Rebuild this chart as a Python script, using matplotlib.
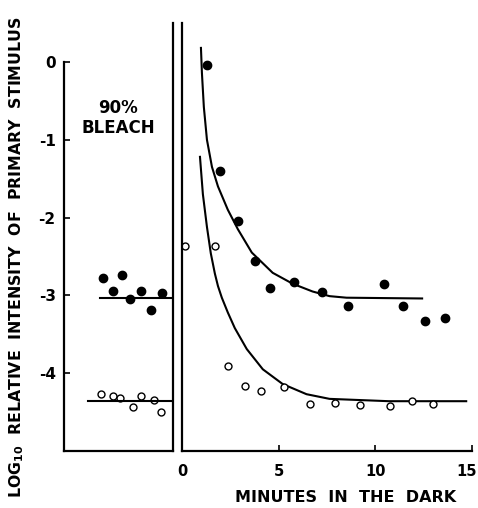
import matplotlib
matplotlib.use("Agg")
import matplotlib.pyplot as plt
import matplotlib.transforms as mtransforms

plt.rcParams['font.family'] = ['DejaVu Sans']
plt.rcParams['axes.unicode_minus'] = False

# --- before the bleach (left panel), x is arbitrary minutes before 0
pre_filled_x = [-3.6, -3.1, -2.6, -2.2, -1.65, -1.13, -0.57]
pre_filled_y = [-2.78, -2.95, -2.74, -3.05, -2.95, -3.19, -2.97]
pre_open_x = [-3.7, -3.1, -2.7, -2.06, -1.65, -0.98, -0.62]
pre_open_y = [-4.27, -4.29, -4.32, -4.44, -4.29, -4.35, -4.50]
pre_filled_level = -3.04
pre_filled_start = -3.76
pre_open_level = -4.36
pre_open_start = -4.38

# --- after the bleach (main panel)
filled_t = [1.29, 1.96, 2.89, 3.76, 4.54, 5.77, 7.22, 8.61, 10.46, 11.44, 12.58, 13.61]
filled_y = [-0.04, -1.40, -2.05, -2.56, -2.91, -2.83, -2.96, -3.14, -2.85, -3.14, -3.33, -3.29]
open_t = [0.15, 1.70, 2.37, 3.25, 4.07, 5.26, 6.60, 7.89, 9.23, 10.77, 11.91, 12.99]
open_y = [-2.36, -2.36, -3.91, -4.17, -4.23, -4.18, -4.40, -4.38, -4.41, -4.42, -4.36, -4.40]

# curves
filled_curve_t = [0.98, 1.03, 1.13, 1.29, 1.55, 1.86, 2.37, 2.89, 3.61, 4.69, 5.72, 6.75, 7.63, 8.51, 12.42]
filled_curve_y = [0.18, -0.14, -0.58, -1.00, -1.35, -1.60, -1.90, -2.15, -2.45, -2.71, -2.85, -2.95, -3.01, -3.03, -3.04]
open_curve_t = [0.93, 1.08, 1.29, 1.49, 1.70, 1.86, 2.06, 2.37, 2.73, 3.35, 4.18, 5.21, 6.44, 7.63, 10.7, 14.7]
open_curve_y = [-1.22, -1.70, -2.12, -2.46, -2.72, -2.88, -3.03, -3.22, -3.42, -3.69, -3.95, -4.14, -4.27, -4.33, -4.36, -4.36]

yticks = [0, -1, -2, -3, -4]
xticks = [0, 5, 10, 15]

W, H = 478, 508
fig = plt.figure(figsize=(W / 100, H / 100), dpi=100)

ax1 = fig.add_axes([64 / W, (H - 451) / H, 109 / W, 428 / H])
ax2 = fig.add_axes([182 / W, (H - 451) / H, 290 / W, 428 / H])

lw = 1.6
for ax in (ax1, ax2):
    ax.set_ylim(-5, 0.5)
    ax.spines['top'].set_visible(False)
    for s in ax.spines.values():
        s.set_linewidth(lw)

# left panel
ax1.set_xlim(-5.6, 0)
ax1.spines['left'].set_bounds(-5, 0)
ax1.set_xticks([])
ax1.set_yticks(yticks)
ax1.set_yticklabels([str(v) for v in yticks], fontsize=11, fontweight='bold')
ax1.tick_params(axis='y', direction='in', length=4, width=1.2, pad=6)
ax1.plot(pre_filled_x, pre_filled_y, 'o', color='black', ms=6, clip_on=False)
ax1.plot(pre_open_x, pre_open_y, 'o', mfc='white', mec='black', mew=1.0, ms=5, clip_on=False)
ax1.plot([pre_filled_start, 0], [pre_filled_level] * 2, color='black', lw=1.5)
ax1.plot([pre_open_start, 0], [pre_open_level] * 2, color='black', lw=1.5)

# main panel
ax2.set_xlim(0, 15)
ax2.spines['right'].set_visible(False)
ax2.set_yticks([])
ax2.set_xticks(xticks)
ax2.set_xticklabels([str(v) for v in xticks], fontsize=10.5, fontweight='bold')
ax2.tick_params(axis='x', direction='in', length=4, width=1.2, pad=9)
# keep the last label ("15") inside the picture
last = ax2.get_xticklabels()[-1]
last.set_horizontalalignment('right')
last.set_transform(last.get_transform() +
                   mtransforms.ScaledTranslation(5 / 100, 0, fig.dpi_scale_trans))
ax2.plot(filled_curve_t, filled_curve_y, color='black', lw=1.5)
ax2.plot(open_curve_t, open_curve_y, color='black', lw=1.5)
ax2.plot(filled_t, filled_y, 'o', color='black', ms=6, clip_on=False)
ax2.plot(open_t, open_y, 'o', mfc='white', mec='black', mew=1.0, ms=5, clip_on=False)

fig.text(118 / W, 1 - 118 / H, '90%\nBLEACH', ha='center', va='center',
         fontsize=12, fontweight='bold', linespacing=1.2)
fig.text(346 / W, 1 - 497 / H, 'MINUTES  IN  THE  DARK', ha='center', va='center',
         fontsize=11.5, fontweight='bold')
fig.text(17 / W, 1 - 257 / H,
         r'LOG$_{\mathbf{10}}$  RELATIVE  INTENSITY  OF  PRIMARY  STIMULUS',
         rotation=90, ha='center', va='center', fontsize=11.3, fontweight='bold')

fig.savefig('out.png', dpi=100)
